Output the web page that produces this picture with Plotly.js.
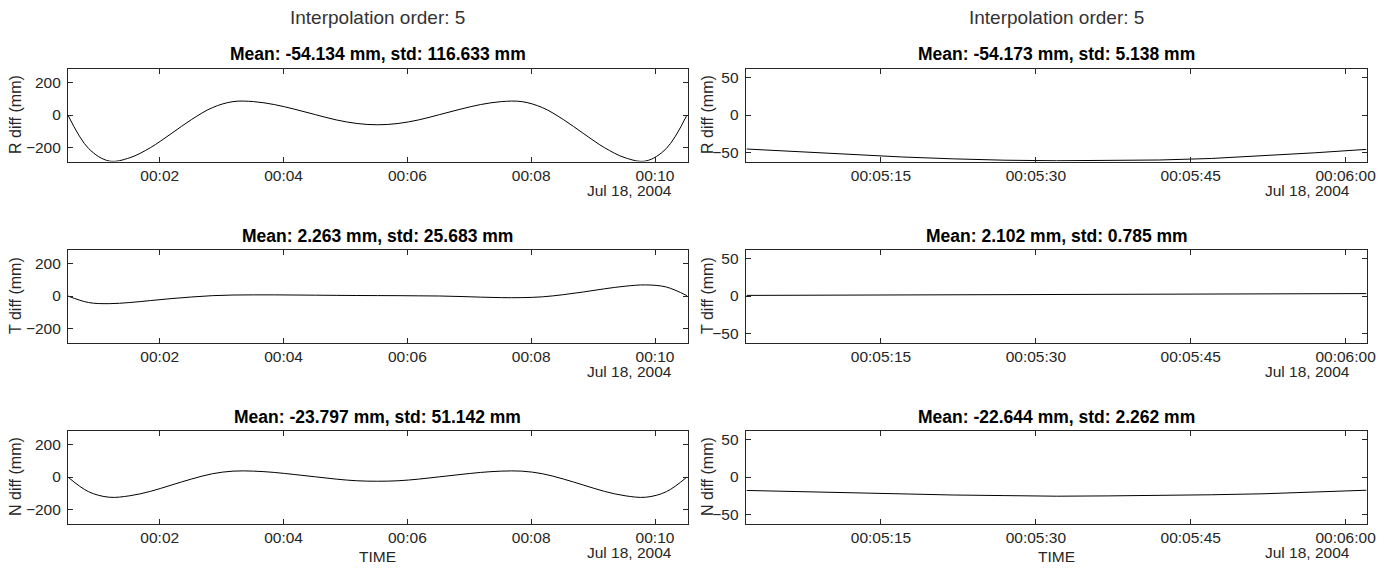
<!DOCTYPE html>
<html>
<head>
<meta charset="utf-8">
<script src="https://cdn.plot.ly/plotly-3.0.1.min.js"></script>
<style>html,body{margin:0;padding:0;background:#fff;}#chart{width:1392px;height:572px;}</style>
</head>
<body>
<div id="chart"></div>
<script>
// ---- data ----
var baseDate = '2004-07-18';
var leftStartSec = 31;           // 00:00:31
var leftOffsets = [0,20,40,60,80,100,120,140,160,180,200,220,240,260,280,300,320,340,360,380,400,420,440,460,480,500,520,540,560,580,600];
var rightStartSec = 302;         // 00:05:02
var rightOffsets = [0,5,10,15,20,25,30,35,40,45,50,55,60];

var rLeft = [0,-205,-282,-262,-200,-115,-27,45,82,82,64,35,2,-30,-52,-60,-52,-30,2,35,64,82,82,45,-27,-115,-200,-262,-282,-205,0];
var tLeft = [0,-40,-47,-40,-28,-16,-6,2,6,7,7,6,5,4,3,2.5,2,1,0,-3,-7,-10,-10,-5,8,25,44,60,68,55,2];
var nLeft = [0,-90,-124,-115,-88,-50,-12,20,36,36,28,15,1,-13,-23,-26,-23,-13,1,15,28,36,36,20,-12,-50,-88,-115,-124,-90,0];

var rRight = [-45,-48.5,-52,-55.5,-58,-59.8,-60.5,-60.3,-59.5,-57.5,-54,-50,-45.5];
var tRight = [0.8,1.0,1.3,1.7,1.8,2.1,2.2,2.5,2.6,2.9,3.0,3.2,3.2];
var nRight = [-17.8,-19.5,-21,-22.5,-23.8,-24.6,-25.4,-25,-24.5,-23.5,-22.2,-20.2,-17.5];

var rowLabels = ['R diff (mm)','T diff (mm)','N diff (mm)'];
var leftTitles = ['Mean: -54.134 mm, std: 116.633 mm','Mean: 2.263 mm, std: 25.683 mm','Mean: -23.797 mm, std: 51.142 mm'];
var rightTitles = ['Mean: -54.173 mm, std: 5.138 mm','Mean: 2.102 mm, std: 0.785 mm','Mean: -22.644 mm, std: 2.262 mm'];
var suptitle = 'Interpolation order: 5';
var dateLabel = 'Jul 18, 2004';
var xLabel = 'TIME';
var leftTicksY = [-200,0,200];
var rightTicksY = [-50,0,50];

// ---- helpers ----
function pad(n){return (n<10?'0':'')+n;}
function stamp(sec){
  var h=Math.floor(sec/3600), m=Math.floor((sec%3600)/60), s=sec%60;
  var si=Math.floor(s), frac=s-si;
  return baseDate+' '+pad(h)+':'+pad(m)+':'+pad(si)+(frac?('.'+Math.round(frac*1000)):'');
}
var leftX = leftOffsets.map(function(o){return stamp(leftStartSec+o);});
var rightX = rightOffsets.map(function(o){return stamp(rightStartSec+o);});

var W=1392, H=572;
var FONT='"Liberation Sans", Arial, Helvetica, sans-serif';
var AX='#262626';
var colX=[[67.9,687.5],[745.7,1367.3]];
var rowY=[[68.5,161.5],[249.5,342.5],[430.5,523.5]];

var leftSeries=[rLeft,tLeft,nLeft], rightSeries=[rRight,tRight,nRight];
var data=[], layout={width:W,height:H,margin:{l:0,r:0,t:0,b:0},showlegend:false,
  paper_bgcolor:'#fff',plot_bgcolor:'#fff',annotations:[]};

for(var r=0;r<3;r++){
  for(var c=0;c<2;c++){
    var i=r*2+c+1, sfx=(i===1?'':String(i));
    data.push({type:'scatter',mode:'lines',
      x:c===0?leftX:rightX, y:c===0?leftSeries[r]:rightSeries[r],
      xaxis:'x'+sfx, yaxis:'y'+sfx,
      line:{color:'#000',width:1,shape:c===0?'spline':'linear',smoothing:1},hoverinfo:'skip'});
    var common={showline:true,linecolor:AX,linewidth:1,mirror:'ticks',ticks:'inside',ticklen:5,
      tickcolor:AX,tickwidth:1,showgrid:false,zeroline:false,
      tickfont:{family:FONT,size:15.5,color:AX}};
    var xa=Object.assign({},common,{type:'date',anchor:'y'+sfx,
      domain:[colX[c][0]/W,colX[c][1]/W]});
    if(c===0){xa.range=[stamp(31),stamp(631.5)];xa.tickformat='%H:%M';xa.dtick=120000;xa.tick0=baseDate+' 00:00:00';}
    else{xa.range=[stamp(301.9),stamp(362.1)];xa.tickformat='%H:%M:%S';xa.dtick=15000;xa.tick0=baseDate+' 00:05:00';}
    var ya=Object.assign({},common,{anchor:'x'+sfx,ticklabelstandoff:3,
      domain:[1-rowY[r][1]/H,1-rowY[r][0]/H],
      range:c===0?[-285,285]:[-61.5,61.5], tickvals:c===0?leftTicksY:rightTicksY});
    layout['xaxis'+sfx]=xa; layout['yaxis'+sfx]=ya;

    var cx=(colX[c][0]+colX[c][1])/2;
    layout.annotations.push({xref:'paper',yref:'paper',x:cx/W,y:1-(rowY[r][0]-2)/H,
      xanchor:'center',yanchor:'bottom',showarrow:false,
      text:'<b>'+(c===0?leftTitles[r]:rightTitles[r])+'</b>',font:{family:FONT,size:17.5,color:'#000'}});
    layout.annotations.push({xref:'paper',yref:'paper',x:(c===0?15:707)/W,y:1-((rowY[r][0]+rowY[r][1])/2)/H,
      xanchor:'center',yanchor:'middle',textangle:-90,showarrow:false,
      text:rowLabels[r],font:{family:FONT,size:16,color:AX}});
    layout.annotations.push({xref:'paper',yref:'paper',x:(c===0?674:1352)/W,y:1-(rowY[r][1]+29)/H,
      xanchor:'right',yanchor:'middle',showarrow:false,
      text:dateLabel,font:{family:FONT,size:15.5,color:AX}});
    if(r===2){
      layout.annotations.push({xref:'paper',yref:'paper',x:cx/W,y:1-556/H,
        xanchor:'center',yanchor:'middle',showarrow:false,
        text:xLabel,font:{family:FONT,size:15.5,color:AX}});
    }
    if(r===0){
      layout.annotations.push({xref:'paper',yref:'paper',x:cx/W,y:1-18/H,
        xanchor:'center',yanchor:'middle',showarrow:false,
        text:suptitle,font:{family:FONT,size:19,color:'#333'}});
    }
  }
}
Plotly.newPlot('chart',data,layout,{staticPlot:true,displayModeBar:false});
</script>
</body>
</html>
